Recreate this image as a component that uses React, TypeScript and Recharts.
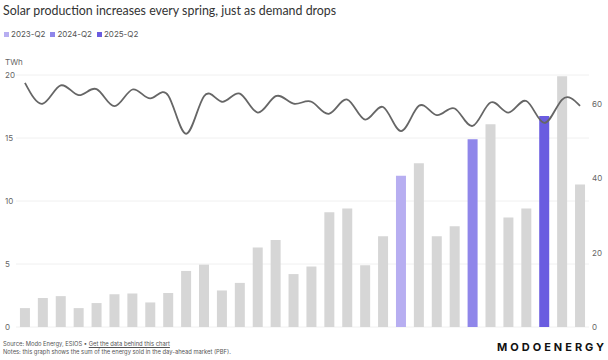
import { ComposedChart, Bar, Line, XAxis, YAxis, CartesianGrid, Cell } from 'recharts';

// quarterly solar production (TWh, left axis) and demand (TWh, right axis)
const quarters = [
  '2018-Q1', '2018-Q2', '2018-Q3', '2018-Q4',
  '2019-Q1', '2019-Q2', '2019-Q3', '2019-Q4',
  '2020-Q1', '2020-Q2', '2020-Q3', '2020-Q4',
  '2021-Q1', '2021-Q2', '2021-Q3', '2021-Q4',
  '2022-Q1', '2022-Q2', '2022-Q3', '2022-Q4',
  '2023-Q1', '2023-Q2', '2023-Q3', '2023-Q4',
  '2024-Q1', '2024-Q2', '2024-Q3', '2024-Q4',
  '2025-Q1', '2025-Q2', '2025-Q3', '2025-Q4',
];

const solar = [
  1.5, 2.3, 2.45, 1.5, 1.9, 2.6, 2.65, 1.95,
  2.7, 4.45, 4.95, 2.9, 3.5, 6.3, 6.9, 4.2,
  4.8, 9.1, 9.4, 4.9, 7.2, 12.0, 13.0, 7.2,
  8.0, 14.9, 16.1, 8.7, 9.4, 16.75, 19.9, 11.3,
];

const demand = [
  65.7, 60.1, 65.0, 62.4, 64.0, 59.4, 63.9, 61.5,
  62.3, 52.0, 62.1, 60.6, 62.8, 57.7, 62.1, 60.1,
  60.6, 57.4, 61.2, 55.8, 59.2, 52.7, 59.5, 57.0,
  58.8, 54.1, 60.4, 57.7, 60.8, 54.9, 61.2, 59.5,
];

const highlights = ['2023-Q2', '2024-Q2', '2025-Q2'];
const highlightColors = ['#b7aef1', '#8f86ea', '#6a5ce0'];

const leftTicks = [0, 5, 10, 15, 20];
const rightTicks = [0, 20, 40, 60];

const data = quarters.map((q, i) => ({ quarter: q, solar: solar[i], demand: demand[i] }));

const FONT = 'Inter, "Noto Sans", sans-serif';

const LeftTick = ({ y, payload }: any) => (
  <text x={5} y={y} dy={3} fontSize={8} fill="#666" fontFamily={FONT}>
    {payload.value}
  </text>
);

const RightTick = ({ y, payload }: any) => (
  <text x={592} y={y} dy={3} fontSize={8} fill="#666" fontFamily={FONT}>
    {payload.value}
  </text>
);

export default function App() {
  return (
    <div style={{ position: 'absolute', left: 0, top: 0, width: 608, height: 360, background: '#fff', fontFamily: FONT }}>
      <div style={{ position: 'absolute', left: 3, top: 3, fontSize: 12.4, fontFamily: 'Lato, sans-serif', color: '#333', whiteSpace: 'nowrap' }}>
        Solar production increases every spring, just as demand drops
      </div>
      <div style={{ position: 'absolute', left: 4, top: 29, display: 'flex', gap: 5, fontSize: 8, color: '#555' }}>
        {highlights.map((h, i) => (
          <div key={h} style={{ display: 'flex', alignItems: 'center', gap: 2 }}>
            <span style={{ width: 5, height: 5, background: highlightColors[i], display: 'inline-block' }} />
            <span>{h}</span>
          </div>
        ))}
      </div>
      <div style={{ position: 'absolute', left: 5, top: 57, fontSize: 8, color: '#666' }}>TWh</div>

      <ComposedChart
        width={608}
        height={360}
        data={data}
        margin={{ top: 75, right: 0, left: 0, bottom: 33 }}
        barCategoryGap="22%"
      >
        <CartesianGrid vertical={false} stroke="#f0f0f0" yAxisId="left" />
        <XAxis dataKey="quarter" hide />
        <YAxis
          yAxisId="left"
          domain={[0, 20]}
          ticks={leftTicks}
          width={16}
          axisLine={false}
          tickLine={false}
          tick={LeftTick}
          allowDataOverflow
        />
        <YAxis
          yAxisId="right"
          orientation="right"
          domain={[0, 67.8]}
          ticks={rightTicks}
          width={19}
          axisLine={false}
          tickLine={false}
          tick={RightTick}
        />
        <Bar yAxisId="left" dataKey="solar" isAnimationActive={false}>
          {data.map((d) => {
            const hi = highlights.indexOf(d.quarter);
            return <Cell key={d.quarter} fill={hi >= 0 ? highlightColors[hi] : '#d6d6d6'} />;
          })}
        </Bar>
        <Line
          yAxisId="right"
          dataKey="demand"
          type="natural"
          stroke="#666"
          strokeWidth={1.8}
          dot={false}
          isAnimationActive={false}
        />
      </ComposedChart>

      <div style={{ position: 'absolute', left: 3, top: 340, fontSize: 5.8, color: '#555', lineHeight: '8px', whiteSpace: 'nowrap' }}>
        <div>
          Source: Modo Energy, ESIOS • <span style={{ textDecoration: 'underline' }}>Get the data behind this chart</span>
        </div>
        <div>Notes: this graph shows the sum of the energy sold in the day-ahead market (PBF).</div>
      </div>
      <div
        style={{
          position: 'absolute',
          left: 497,
          top: 340,
          fontSize: 11,
          lineHeight: '14px',
          fontWeight: 700,
          letterSpacing: 3,
          color: '#111',
          whiteSpace: 'nowrap',
        }}
      >
        MODOENERGY
      </div>
    </div>
  );
}
